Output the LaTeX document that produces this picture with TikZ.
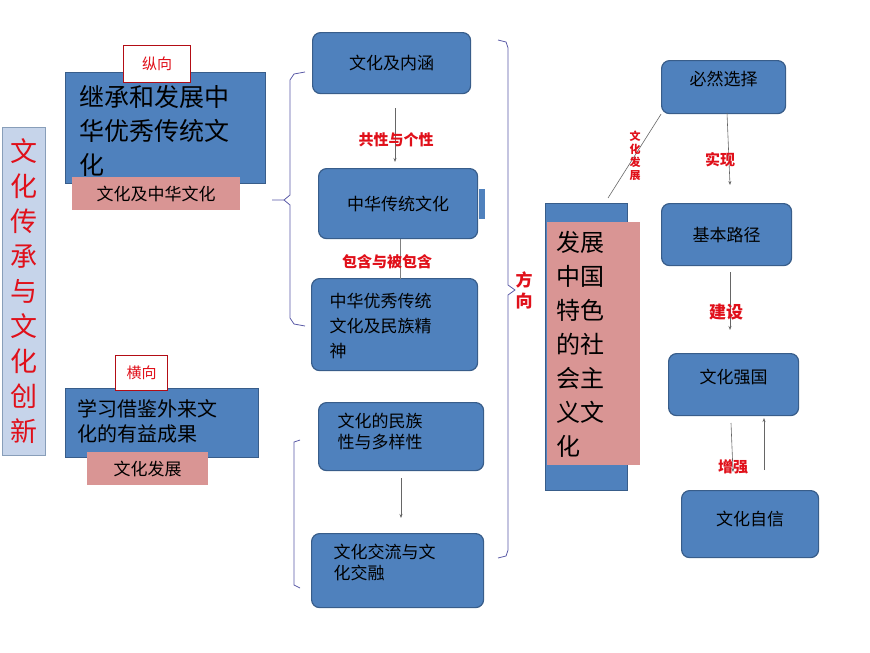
\documentclass[tikz,border=0pt]{standalone}
\usepackage{fontspec}
\setmainfont{Noto Sans CJK SC}
\usetikzlibrary{arrows.meta,decorations.pathreplacing}
\definecolor{bfill}{HTML}{4F81BD}
\definecolor{bdraw}{HTML}{385D8A}
\definecolor{pinkf}{HTML}{D99594}
\definecolor{lblue}{HTML}{C6D4EA}
\definecolor{rtext}{HTML}{E0101A}
\tikzset{
 rbox/.style={draw=bdraw,fill=bfill,line width=1.2pt,rounded corners=8pt,inner sep=0pt},
 sbox/.style={draw=bdraw,fill=bfill,line width=1.2pt,inner sep=0pt},
 pbox/.style={fill=pinkf,inner sep=0pt},
 tag/.style={draw=rtext!80!black,fill=white,line width=1pt,text=rtext,font=\fontsize{15}{15}\selectfont,inner sep=0pt},
 rlab/.style={text=rtext,font=\bfseries\fontsize{15}{15}\selectfont,inner sep=1pt},
 txt/.style={text=black,font=\fontsize{17}{21}\selectfont,align=left},
 conn/.style={draw=gray!80!black,line width=0.6pt,-{Stealth[length=4pt]}},
 brc/.style={draw=gray!70!blue,line width=0.8pt}
}
\begin{document}
\begin{tikzpicture}[x=1pt,y=-1pt]
\useasboundingbox (0,0) rectangle (870,653);
% left vertical title
\node[draw=bdraw!60,fill=lblue,minimum width=43,minimum height=328,anchor=north west,inner sep=0pt] (title) at (2,127) {};
\node[text=rtext,font=\fontsize{27}{35}\selectfont,align=center] (titlet) at (title.center) {文\\化\\传\\承\\与\\文\\化\\创\\新};
% upper left
\node[sbox,minimum width=200,minimum height=111,anchor=north west] (jc) at (65,72) {};
\node[txt,font=\fontsize{25}{34}\selectfont,anchor=north west] (jct) at (76,82) {继承和发展中\\华优秀传统文\\化};
\node[tag,minimum width=67,minimum height=37,anchor=north west] (zx) at (123,45) {纵向};
\node[pbox,minimum width=168,minimum height=33,anchor=north west,txt] (wh1) at (72,177) {文化及中华文化};
% lower left
\node[sbox,minimum width=193,minimum height=69,anchor=north west] (xx) at (65,388) {};
\node[txt,font=\fontsize{20}{25}\selectfont,anchor=north west] (xxt) at (74,396) {学习借鉴外来文\\化的有益成果};
\node[tag,minimum width=52,minimum height=35,anchor=north west] (hx) at (115,355) {横向};
\node[pbox,minimum width=121,minimum height=33,anchor=north west,txt] (wh2) at (87,452) {文化发展};
% braces
\draw[brc] (305,72) -- (294,74) -- (290,80) -- (290,195) -- (284,200) -- (272,200);
\draw[brc] (284,200) -- (290,205) -- (290,318) -- (294,324) -- (305,326);
\draw[brc] (300,440) -- (294,442) -- (294,585) -- (300,588);
\draw[brc] (498,40) -- (506,42) -- (508,48) -- (508,285) -- (515,290) -- (508,295) -- (508,550) -- (506,556) -- (498,558);
% middle boxes
\node[rbox,minimum width=158,minimum height=61,anchor=north west] (nh) at (312,32) {};
\node[txt] at (nh.center) {文化及内涵};
\node[rbox,minimum width=159,minimum height=70,anchor=north west] (ct) at (318,168) {};
\node[sbox,draw=none,minimum width=6,minimum height=30,anchor=west] (tab) at (ct.east) {};
\node[txt] at (ct.center) {中华传统文化};
\node[rbox,minimum width=166,minimum height=92,anchor=north west] (yx) at (311,278) {};
\node[txt,anchor=north west,font=\fontsize{17}{25}\selectfont] at (326,290) {中华优秀传统\\文化及民族精\\神};
\node[rbox,minimum width=165,minimum height=68,anchor=north west] (mz) at (318,402) {};
\node[txt,anchor=north west] at (334,410) {文化的民族\\性与多样性};
\node[rbox,minimum width=172,minimum height=74,anchor=north west] (jl) at (311,533) {};
\node[txt,anchor=north west] at (330,541) {文化交流与文\\化交融};
\draw[conn] (395,108) -- (395,162);
\node[rlab] (l1) at (396,140) {共性与个性};
\draw[brc,draw=gray] (ct.south) ++(2,0) -- ++(0,40);
\node[rlab] (l2) at (387,262) {包含与被包含};
\draw[conn] (401,478) -- (401,518);
\node[rlab,font=\bfseries\fontsize{17}{21}\selectfont,align=center] (fx) at (524,290) {方\\向};
% socialist culture
\node[sbox,minimum width=82,minimum height=287,anchor=north west] (sh) at (545,203) {};
\node[pbox,minimum width=93,minimum height=243,anchor=north west] (shp) at (547,222) {};
\node[txt,font=\fontsize{24}{34}\selectfont,anchor=north west] at (553,228) {发展\\中国\\特色\\的社\\会主\\义文\\化};
% right chain
\node[rbox,minimum width=124,minimum height=53,anchor=north west] (br) at (661,60) {};
\node[txt] at ([yshift=8]br.center) {必然选择};
\node[rbox,minimum width=130,minimum height=62,anchor=north west] (lj) at (661,203) {};
\node[txt] at (lj.center) {基本路径};
\node[rbox,minimum width=130,minimum height=62,anchor=north west] (qg) at (668,353) {};
\node[txt] at ([yshift=8]qg.center) {文化强国};
\node[rbox,minimum width=137,minimum height=67,anchor=north west] (zx2) at (681,490) {};
\node[txt] at ([yshift=5]zx2.center) {文化自信};
\draw[draw=gray!80!black,line width=0.6pt] (608,198) -- (br.south west);
\node[rlab,font=\bfseries\fontsize{11}{13}\selectfont,align=center] (fz) at (635,156) {文\\化\\发\\展};
\draw[conn] (727,113) -- (730,185);
\node[rlab] at (720,160) {实现};
\draw[conn] (730,272) -- (730,330);
\node[rlab,font=\bfseries\fontsize{17}{21}\selectfont] at (726,312) {建设};
\draw[conn] (731,423) -- (733,472);
\draw[conn] (764,470) -- (764,418);
\node[rlab] at (733,467) {增强};
\end{tikzpicture}
\end{document}
